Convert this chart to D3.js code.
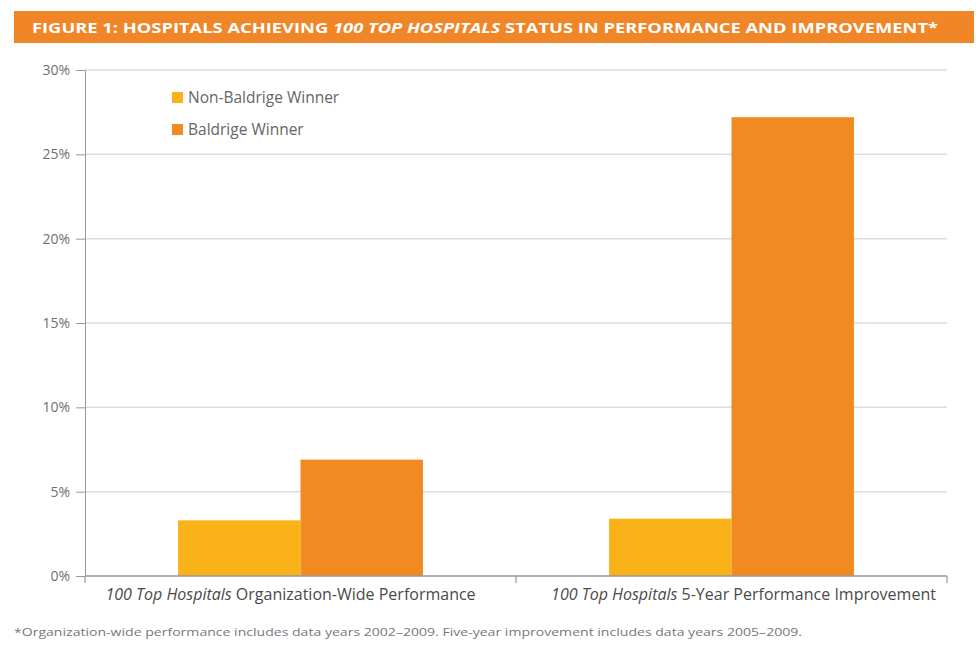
<!DOCTYPE html>
<html lang="en">
<head>
  <meta charset="utf-8">
  <title>Figure 1: 100 Top Hospitals</title>
  <script src="https://cdn.jsdelivr.net/npm/d3@7"></script>
  <style>
    body { margin: 0; background: #fff; }
    svg { display: block; font-family: "Open Sans", sans-serif; }
  </style>
</head>
<body>
<svg id="chart" width="976" height="648"></svg>
<script>
// data
const categories = ["Organization-Wide Performance", "5-Year Performance Improvement"];
const seriesNames = ["Non-Baldrige Winner", "Baldrige Winner"];
const nonBaldrige = [3.3, 3.4];
const baldrige = [6.9, 27.2];
const yTicks = [0, 5, 10, 15, 20, 25, 30];

const colors = ["#F9B318", "#F28A22"];
const svg = d3.select("#chart");
const plotL = 85, plotR = 947, plotT = 70, plotB = 576;

// title bar
svg.append("rect").attr("x", 14).attr("y", 11).attr("width", 960).attr("height", 32).attr("fill", "#F08628");
const title = svg.append("text").attr("x", 32).attr("y", 33)
  .attr("fill", "#fff").style("font-size", "15px").style("font-weight", "700")
  .attr("textLength", 906).attr("lengthAdjust", "spacingAndGlyphs");
title.append("tspan").text("FIGURE 1: HOSPITALS ACHIEVING ");
title.append("tspan").style("font-style", "italic").text("100 TOP HOSPITALS");
title.append("tspan").text(" STATUS IN PERFORMANCE AND IMPROVEMENT*");

// scales
const y = d3.scaleLinear().domain([0, 30]).range([plotB, plotT]);
const x0 = d3.scaleBand().domain(categories).range([plotL, plotR]);
const x1 = d3.scaleBand().domain(seriesNames).range([0, x0.bandwidth()]).paddingOuter(0.76);

// gridlines
svg.append("g").selectAll("line").data(yTicks.filter(d => d > 0)).join("line")
  .attr("x1", plotL).attr("x2", plotR)
  .attr("y1", d => y(d)).attr("y2", d => y(d))
  .attr("stroke", "#dcdcdc").attr("stroke-width", 1.5);

// y axis
const yAxis = svg.append("g").attr("transform", `translate(${plotL},0)`)
  .call(d3.axisLeft(y).tickValues(yTicks).tickFormat(d => d + "%").tickSize(9).tickPadding(6).tickSizeOuter(0));
yAxis.select(".domain").attr("stroke", "#999");
yAxis.selectAll(".tick line").attr("stroke", "#999");
yAxis.selectAll("text").attr("fill", "#6f6f6f").style("font-size", "14px").style("font-family", "Open Sans, sans-serif");

// bars
const rows = categories.map((c, i) => ({ cat: c, vals: [nonBaldrige[i], baldrige[i]] }));
svg.append("g").selectAll("g").data(rows).join("g")
  .attr("transform", d => `translate(${x0(d.cat)},0)`)
  .selectAll("rect").data(d => d.vals.map((v, j) => ({ s: seriesNames[j], v, j })))
  .join("rect")
  .attr("x", d => x1(d.s)).attr("width", x1.bandwidth())
  .attr("y", d => y(d.v)).attr("height", d => y(0) - y(d.v))
  .attr("fill", d => colors[d.j]);

// x axis baseline and separators
svg.append("line").attr("x1", plotL).attr("x2", plotR).attr("y1", y(0)).attr("y2", y(0))
  .attr("stroke", "#999").attr("stroke-width", 1.5);
const seps = [x0.range()[0]].concat(categories.map(c => x0(c) + x0.bandwidth()));
svg.append("g").selectAll("line").data(seps).join("line")
  .attr("x1", d => d).attr("x2", d => d).attr("y1", y(0)).attr("y2", y(0) + 7)
  .attr("stroke", "#999").attr("stroke-width", 1.2);

// category labels
const labelShift = [-10, 12];
const lbl = svg.append("g").selectAll("text").data(categories).join("text")
  .attr("x", (d, i) => x0(d) + x0.bandwidth() / 2 + labelShift[i]).attr("y", 600)
  .attr("text-anchor", "middle").attr("fill", "#4a4a4a").style("font-size", "16px");
lbl.append("tspan").style("font-style", "italic").text("100 Top Hospitals");
lbl.append("tspan").text(d => " " + d);

// legend
const leg = svg.append("g").selectAll("g").data(seriesNames).join("g")
  .attr("transform", (d, i) => `translate(172,${92 + i * 32})`);
leg.append("rect").attr("width", 11).attr("height", 11).attr("fill", (d, i) => colors[i]);
leg.append("text").attr("x", 16).attr("y", 11).attr("fill", "#666").style("font-size", "15.5px").text(d => d);

// footnote
svg.append("text").attr("x", 14).attr("y", 636).attr("fill", "#777").style("font-size", "11px")
  .attr("textLength", 788).attr("lengthAdjust", "spacingAndGlyphs")
  .text("*Organization-wide performance includes data years 2002\u20132009. Five-year improvement includes data years 2005\u20132009.");
</script>
</body>
</html>
